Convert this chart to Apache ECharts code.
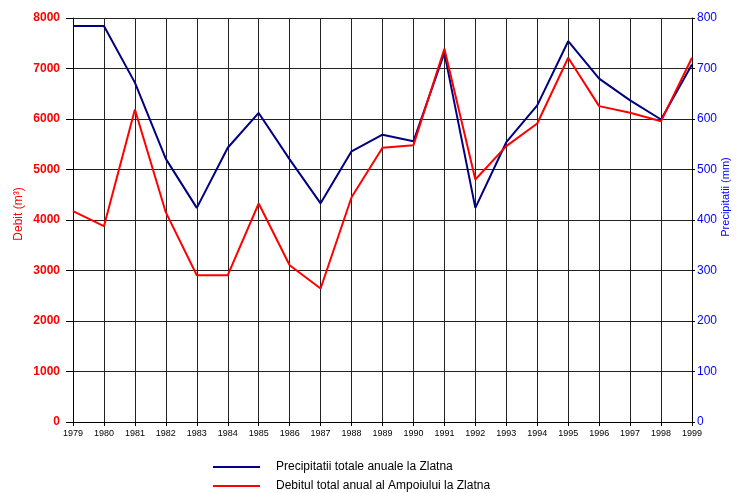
<!DOCTYPE html>
<html>
<head>
<meta charset="utf-8">
<script src="https://cdn.jsdelivr.net/npm/echarts@6/dist/echarts.min.js"></script>
<style>
  html, body { margin: 0; padding: 0; background: #fff; }
  #main { width: 736px; height: 493px; }
</style>
</head>
<body>
<div id="main"></div>
<script>
// ani
var years = ['1979', '1980', '1981', '1982', '1983', '1984', '1985', '1986', '1987', '1988',
  '1989', '1990', '1991', '1992', '1993', '1994', '1995', '1996', '1997', '1998', '1999'];
// precipitatii (mm), axa din dreapta
var precipitatii = [784, 784, 672, 521, 424, 543, 612, 520, 433, 536,
  569, 556, 731, 424, 554, 627, 754, 680, 637, 599, 708];
// debit (m3), axa din stanga
var debit = [4175, 3878, 6188, 4150, 2907, 2907, 4327, 3105, 2644, 4450,
  5430, 5482, 7390, 4802, 5462, 5911, 7212, 6255, 6123, 5957, 7212];

var font = '"Liberation Sans", Arial, sans-serif';
var chart = echarts.init(document.getElementById('main'));

var option = {
  animation: false,
  backgroundColor: '#fff',
  grid: { left: 73, right: 44, top: 18, bottom: 71, outerBoundsMode: 'none', containLabel: false },
  legend: {
    orient: 'vertical',
    left: 213,
    top: 461,
    height: 44,
    padding: 0,
    itemWidth: 47,
    itemHeight: 2,
    itemGap: 7,
    icon: 'rect',
    textStyle: { fontFamily: font, fontSize: 12, color: '#000', padding: [0, 0, 0, 11] },
    data: ['Precipitatii totale anuale la Zlatna', 'Debitul total anual al Ampoiului la Zlatna']
  },
  xAxis: {
    type: 'category',
    data: years,
    boundaryGap: false,
    axisLine: { lineStyle: { color: '#000' } },
    axisTick: { show: true, length: 4, lineStyle: { color: '#000' } },
    axisLabel: { fontFamily: font, fontSize: 9, color: '#000', margin: 7, interval: 0 },
    splitLine: { show: true, lineStyle: { color: '#222', width: 1 } }
  },
  yAxis: [
    {
      type: 'value',
      min: 0, max: 8000, interval: 1000,
      name: 'Debit (m³)',
      nameLocation: 'middle',
      nameGap: 48,
      nameMoveOverlap: false,
      nameTextStyle: { fontFamily: font, fontSize: 12, color: '#ff0000', padding: [0, 0, 0, 12] },
      axisLine: { show: true, lineStyle: { color: '#000' } },
      axisTick: { show: true, length: 7, lineStyle: { color: '#000' } },
      axisLabel: {
        fontFamily: font, fontSize: 12, fontWeight: 'bold', color: '#ff0000', margin: 13,
        formatter: function (v) { return String(v); }
      },
      splitLine: { show: true, lineStyle: { color: '#222', width: 1 } }
    },
    {
      type: 'value',
      min: 0, max: 800, interval: 100,
      name: 'Precipitatii (mm)',
      nameLocation: 'middle',
      nameGap: 28,
      nameMoveOverlap: false,
      nameTextStyle: { fontFamily: font, fontSize: 11, color: '#0000ff', padding: [0, 0, 0, 46] },
      position: 'right',
      axisLine: { show: true, lineStyle: { color: '#000' } },
      axisTick: { show: true, length: 3, lineStyle: { color: '#000' } },
      axisLabel: { fontFamily: font, fontSize: 12, color: '#0000ff', margin: 5 },
      splitLine: { show: false }
    }
  ],
  series: [
    {
      name: 'Precipitatii totale anuale la Zlatna',
      type: 'line',
      yAxisIndex: 1,
      data: precipitatii,
      showSymbol: false,
      symbol: 'none',
      color: '#000080',
      lineStyle: { color: '#000080', width: 2 }
    },
    {
      name: 'Debitul total anual al Ampoiului la Zlatna',
      type: 'line',
      yAxisIndex: 0,
      data: debit,
      showSymbol: false,
      symbol: 'none',
      color: '#ff0000',
      lineStyle: { color: '#ff0000', width: 2 }
    }
  ]
};

chart.setOption(option);
</script>
</body>
</html>
